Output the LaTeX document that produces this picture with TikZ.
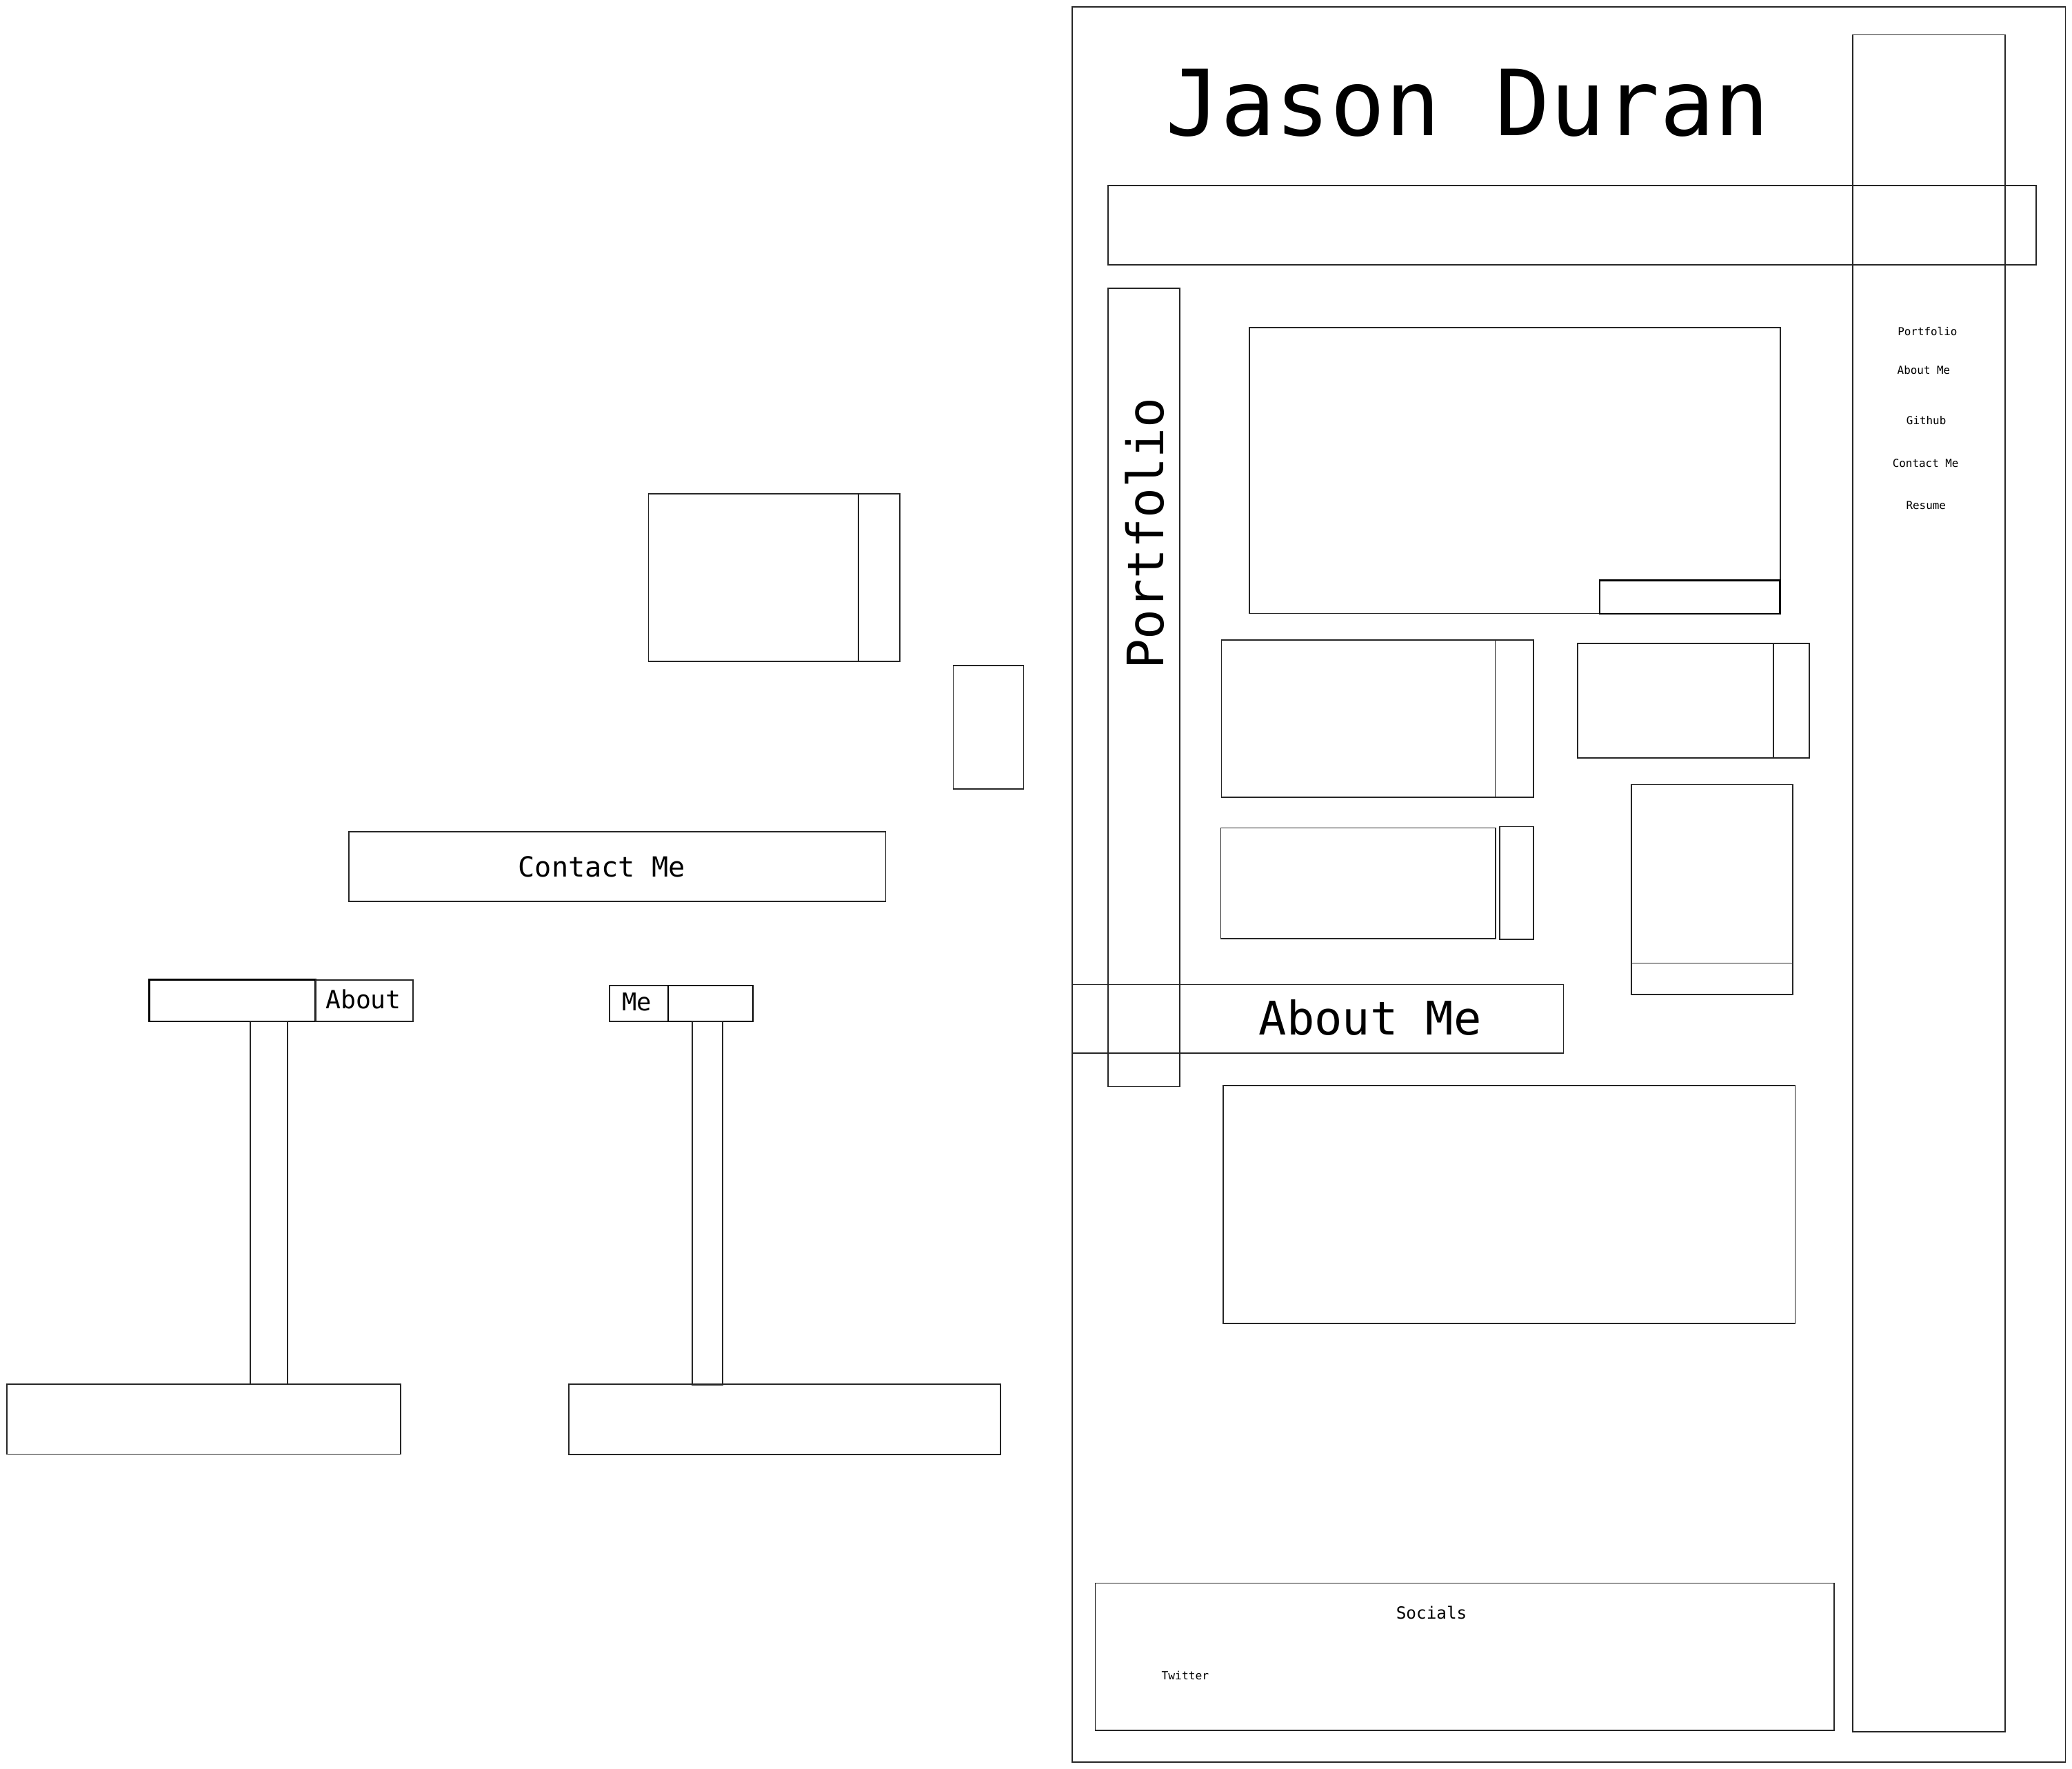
\documentclass[tikz,border=0pt]{standalone}
\usepackage{fontspec}
\newfontfamily\monofam{DejaVu Sans Mono}
\newcommand\wbox[6][]{\node[box,#1,anchor=north west,minimum width={(#5-#3)*1pt},minimum height={(#6-#4)*1pt}] (#2) at (#3,#4) {};}
\tikzset{
  box/.style={draw=black!85,line width=0.9pt,inner sep=0pt,outer sep=0pt},
  thick box/.style={line width=1.3pt,draw=black},
  lbl/.style={inner sep=0pt,outer sep=0pt,anchor=base,font=\monofam},
}
\begin{document}
\begin{tikzpicture}[x=1pt,y=-1pt]
\useasboundingbox (0,0) rectangle (1568,1338);
% ---------- page mockup ----------
\wbox{frame}{811.5}{5.1}{1563}{1333}
\wbox{sidebar}{1402}{26.4}{1517.4}{1310.2}
\wbox{header}{838.6}{140.5}{1540.7}{200.4}
\wbox{pbar}{838.7}{218}{892.8}{822.1}
\wbox{bigcard}{945.4}{247.7}{1347.1}{464.1}
\wbox[thick box]{bigtag}{1210.6}{439.1}{1347.1}{464.3}
\wbox{cardAa}{924.3}{484.2}{1131.5}{603.1}
\wbox{cardAb}{1131.5}{484.2}{1160.4}{603.1}
\wbox{cardBa}{1193.8}{487}{1342}{573.5}
\wbox{cardBb}{1342}{487}{1369.1}{573.5}
\wbox{cardCa}{923.8}{626.4}{1131.9}{710}
\wbox{cardCb}{1134.8}{625.3}{1160.4}{710.5}
\wbox{cardDa}{1234.4}{593.6}{1356.6}{728.7}
\wbox{cardDb}{1234.4}{728.7}{1356.6}{752.3}
\wbox{aboutbar}{811.6}{744.9}{1183.1}{796.8}
\wbox{aboutbox}{925.8}{821.4}{1358.5}{1001.3}
\wbox{socials}{828.9}{1197.8}{1388.1}{1309}
% texts
\node[lbl,font=\monofam\fontsize{69}{72}\selectfont] (title) at (1110.7,102.7) {Jason Duran};
\node[lbl,rotate=90,font=\monofam\fontsize{38}{40}\selectfont] (ptxt) at (880.5,403.7) {Portfolio};
\node[lbl,font=\monofam\fontsize{35}{38}\selectfont] (atxt) at (1036.9,783) {About Me};
\node[lbl,font=\monofam\fontsize{12.7}{14}\selectfont] (stxt) at (1083.3,1224.8) {Socials};
\node[lbl,anchor=base west,font=\monofam\fontsize{8.5}{10}\selectfont] (twt) at (879,1270.9) {Twitter};
\node[lbl,font=\monofam\fontsize{8.3}{10}\selectfont] (nav1) at (1458.6,253.6) {Portfolio};
\node[lbl,font=\monofam\fontsize{8.3}{10}\selectfont] (nav2) at (1455.8,283) {About Me};
\node[lbl,font=\monofam\fontsize{8.3}{10}\selectfont] (nav3) at (1457.7,321.3) {Github};
\node[lbl,font=\monofam\fontsize{8.3}{10}\selectfont] (nav4) at (1457.2,353.6) {Contact Me};
\node[lbl,font=\monofam\fontsize{8.3}{10}\selectfont] (nav5) at (1457.5,385.6) {Resume};
% ---------- loose components ----------
\wbox{proja}{490.7}{373.5}{649.8}{500.4}
\wbox{projb}{649.8}{373.5}{680.8}{500.4}
\wbox{tallsmall}{721.4}{503.5}{774.6}{597.1}
\wbox{contact}{263.9}{629.1}{670.2}{681.8}
\node[lbl,font=\monofam\fontsize{21}{24}\selectfont] (ctxt) at (455.4,663.4) {Contact Me};
\wbox[thick box]{aboutL}{113}{741.3}{238.8}{772.7}
\wbox{aboutR}{238.8}{741.3}{312.7}{772.7}
\node[lbl,font=\monofam\fontsize{19}{22}\selectfont] (abtxt) at (275,763) {About};
\wbox{stemL}{189.3}{772.7}{217.6}{1047.1}
\wbox{baseL}{5.2}{1047.1}{303.1}{1100.2}
\wbox{meL}{461.2}{745.6}{505.5}{772.9}
\wbox[thick box]{meR}{505.5}{745.6}{569.8}{772.9}
\node[lbl,font=\monofam\fontsize{18.5}{21}\selectfont] (metxt) at (481.8,764.8) {Me};
\wbox{stemR}{523.9}{772.9}{546.7}{1047.8}
\wbox{baseR}{430.3}{1047.2}{757.1}{1100.6}
\end{tikzpicture}
\end{document}
